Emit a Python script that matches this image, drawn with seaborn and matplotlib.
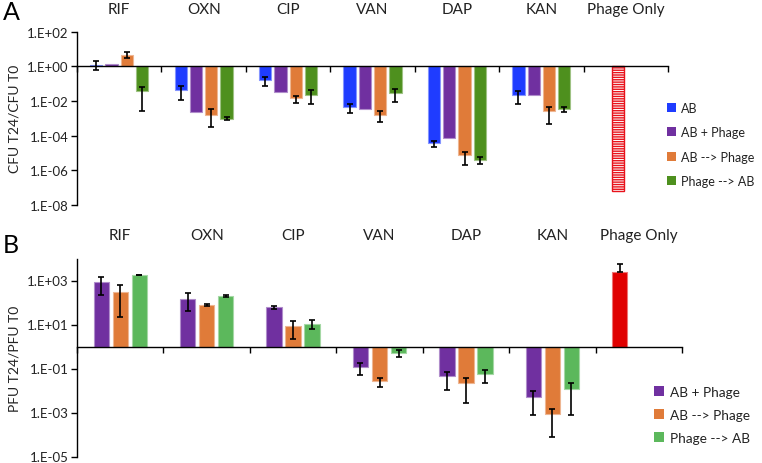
import numpy as np
import pandas as pd
import matplotlib
matplotlib.use('Agg')
import matplotlib.pyplot as plt
import matplotlib.colors as mcolors
from matplotlib.patches import Patch
from matplotlib.ticker import FuncFormatter
import seaborn as sns

nan = np.nan
categories = ['RIF', 'OXN', 'CIP', 'VAN', 'DAP', 'KAN', 'Phage Only']

# Panel A - CFU T24/CFU T0 (value, lower end and upper end of error bar)
cfu_series = ['AB', 'AB + Phage', 'AB --> Phage', 'Phage --> AB']
cfu_values = {
    'AB':           [1.2, 0.041, 0.155, 0.0043, 3.8e-5, 0.021, nan],
    'AB + Phage':   [1.3, 0.0022, 0.032, 0.0032, 7.3e-5, 0.021, 6.3e-8],
    'AB --> Phage': [4.7, 0.0016, 0.015, 0.0016, 7e-6, 0.0025, nan],
    'Phage --> AB': [0.035, 0.00096, 0.023, 0.028, 4e-6, 0.0035, nan],
}
cfu_low = {
    'AB':           [0.64, 0.011, 0.07, 0.002, 2.2e-5, 0.0064, nan],
    'AB + Phage':   [nan, nan, nan, nan, nan, nan, nan],
    'AB --> Phage': [3.0, 0.00032, 0.008, 0.0006, 2e-6, 0.00044, nan],
    'Phage --> AB': [0.0026, 0.00076, 0.0064, 0.0083, 2.2e-6, 0.0022, nan],
}
cfu_high = {
    'AB':           [2.0, 0.07, 0.24, 0.0064, 4.9e-5, 0.035, nan],
    'AB + Phage':   [nan, nan, nan, nan, nan, nan, nan],
    'AB --> Phage': [6.7, 0.0032, 0.019, 0.0026, 1.1e-5, 0.0045, nan],
    'Phage --> AB': [0.065, 0.0011, 0.041, 0.049, 5.9e-6, 0.0045, nan],
}
cfu_colors = ['#1f3cff', '#7030a0', '#e07b39', '#4e901e']
cfu_ticks = [-8, -6, -4, -2, 0, 2]

# Panel B - PFU T24/PFU T0
pfu_series = ['AB + Phage', 'AB --> Phage', 'Phage --> AB']
pfu_values = {
    'AB + Phage':   [870, 141, 61, 0.115, 0.045, 0.0053, 2450],
    'AB --> Phage': [316, 75, 8.6, 0.027, 0.021, 0.00084, nan],
    'Phage --> AB': [1790, 194, 10.6, 0.51, 0.059, 0.0123, nan],
}
pfu_low = {
    'AB + Phage':   [209, 40, 51, 0.05, 0.011, 0.00078, 2450],
    'AB --> Phage': [23, 68, 2.3, 0.015, 0.0028, 7.6e-5, nan],
    'Phage --> AB': [1700, 171, 6.1, 0.33, 0.023, 0.00078, nan],
}
pfu_high = {
    'AB + Phage':   [1500, 257, 72, 0.17, 0.073, 0.0093, 5900],
    'AB --> Phage': [616, 87, 15, 0.037, 0.037, 0.0015, nan],
    'Phage --> AB': [1870, 215, 16, 0.66, 0.09, 0.022, nan],
}
pfu_colors = ['#7030a0', '#e07b39', '#5cb85c']
pfu_ticks = [-5, -3, -1, 1, 3]

sns.set_theme(style='white')
plt.rcParams['font.family'] = ['Lato', 'DejaVu Sans']
plt.rcParams['text.color'] = '#222222'
plt.rcParams['axes.labelcolor'] = '#222222'
plt.rcParams['xtick.color'] = '#222222'
plt.rcParams['ytick.color'] = '#222222'
plt.rcParams['hatch.linewidth'] = 1.0


def lighten(c, f=0.45):
    r, g, b = mcolors.to_rgb(c)
    return (r + (1 - r) * f, g + (1 - g) * f, b + (1 - b) * f)


def draw_panel(ax, series, values, low, high, colors, ylim, yticks, ylabel, width, pad):
    rows = []
    for s in series:
        for i, cat in enumerate(categories):
            v = values[s][i]
            if not np.isnan(v):
                rows.append({'cat': cat, 'series': s, 'logv': np.log10(v),
                             'lo': low[s][i], 'hi': high[s][i]})
    df = pd.DataFrame(rows)
    sns.barplot(data=df, x='cat', y='logv', hue='series', order=categories,
                hue_order=series, palette=colors, saturation=1, width=width,
                gap=0.2, errorbar=None, legend=False, ax=ax)

    for s, cont in zip(series, ax.containers):
        for bar in cont:
            cx = bar.get_x() + bar.get_width() / 2
            cat = categories[int(round(cx))]
            bar.set_edgecolor(lighten(bar.get_facecolor()))
            bar.set_linewidth(0.8)
            r = df[(df['cat'] == cat) & (df['series'] == s)]
            if len(r) == 0:
                continue
            r = r.iloc[0]
            if np.isnan(r['lo']):
                continue
            err = [[r['logv'] - np.log10(r['lo'])], [np.log10(r['hi']) - r['logv']]]
            ax.errorbar(cx, r['logv'], yerr=err, fmt='none', ecolor='black',
                        elinewidth=1.2, capsize=2.3, capthick=1.2, zorder=5)

    ax.set_ylim(*ylim)
    ax.set_yticks(yticks)
    ax.yaxis.set_major_formatter(FuncFormatter(lambda v, p: f'1.E{int(round(v)):+03d}'))
    ax.set_xlim(-0.5, len(categories) - 0.5)
    ax.set_xticks(np.arange(-0.5, len(categories)))
    ax.set_xticklabels([])
    ax.spines['bottom'].set_position(('data', 0))
    ax.spines['top'].set_visible(False)
    ax.spines['right'].set_visible(False)
    for sp in ['bottom', 'left']:
        ax.spines[sp].set_color('black')
        ax.spines[sp].set_linewidth(1.0)
    ax.tick_params(axis='x', bottom=True, direction='out', length=4, width=1, color='black')
    ax.tick_params(axis='y', left=True, direction='out', length=4, width=1,
                   color='black', labelsize=9.5, pad=2)
    ax.set_xlabel('')
    ax.set_ylabel(ylabel, fontsize=10, labelpad=5)

    sec = ax.secondary_xaxis('top')
    sec.set_xticks(range(len(categories)), categories)
    sec.tick_params(length=0, pad=pad, labelsize=11)
    sec.spines['top'].set_visible(False)
    return df


fig = plt.figure(figsize=(7.62, 4.64), dpi=100)
W, H = 762, 464
axA = fig.add_axes([77 / W, 1 - 205.7 / H, (668 - 77) / W, (205.7 - 32.7) / H])
axB = fig.add_axes([77 / W, 1 - 457.5 / H, (682 - 77) / W, (457.5 - 259.5) / H])

draw_panel(axA, cfu_series, cfu_values, cfu_low, cfu_high, cfu_colors,
           (-8, 2), cfu_ticks, 'CFU T24/CFU T0', 0.725, 11)
draw_panel(axB, pfu_series, pfu_values, pfu_low, pfu_high, pfu_colors,
           (-5, 4), pfu_ticks, 'PFU T24/PFU T0', 0.66, 12)

# "Phage Only" bars: hatched outline in A, solid red in B
for bar in axA.containers[1]:
    if int(round(bar.get_x() + bar.get_width() / 2)) == len(categories) - 1:
        bar.set_facecolor('white')
        bar.set_edgecolor('#e8121b')
        bar.set_hatch('-------')
        bar.set_linewidth(1.0)
for bar in axB.containers[0]:
    if int(round(bar.get_x() + bar.get_width() / 2)) == len(categories) - 1:
        bar.set_facecolor('#e00000')
        bar.set_edgecolor(lighten('#e00000'))

legA = [Patch(facecolor=c, edgecolor='none', label=s) for s, c in zip(cfu_series, cfu_colors)]
fig.legend(handles=legA, loc='upper left', bbox_to_anchor=(667 / W, 1 - 103 / H),
           frameon=False, fontsize=9.0, handlelength=0.75, handleheight=0.75,
           handletextpad=0.4, labelspacing=0.98, borderpad=0, borderaxespad=0)
legB = [Patch(facecolor=c, edgecolor='none', label=s) for s, c in zip(pfu_series, pfu_colors)]
fig.legend(handles=legB, loc='upper left', bbox_to_anchor=(654 / W, 1 - 387 / H),
           frameon=False, fontsize=9.8, handlelength=0.7, handleheight=0.7,
           handletextpad=0.45, labelspacing=0.8, borderpad=0, borderaxespad=0)

fig.text(3 / W, 1 - 1 / H, 'A', fontsize=18, va='top', ha='left', color='black')
fig.text(3 / W, 1 - 234 / H, 'B', fontsize=18, va='top', ha='left', color='black')

fig.savefig('out.png', dpi=100)
